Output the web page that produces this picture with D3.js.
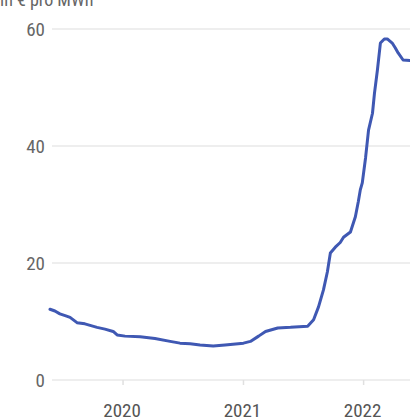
<!DOCTYPE html>
<html><head><meta charset="utf-8">
<script src="https://cdn.jsdelivr.net/npm/d3@7"></script>
<style>
html,body{margin:0;padding:0;background:#fff;}
svg{display:block;}
text{font-family:"Roboto Condensed",Roboto,sans-serif;}
</style></head>
<body>
<script>
const dates = ["2019-05-24","2019-06-08","2019-06-23","2019-07-09","2019-07-24","2019-08-14","2019-09-07","2019-10-14","2019-11-07","2019-12-02","2019-12-14","2020-01-07","2020-02-22","2020-04-07","2020-05-23","2020-06-22","2020-07-23","2020-08-22","2020-10-01","2020-11-06","2021-01-01","2021-01-22","2021-02-16","2021-03-09","2021-04-15","2021-05-24","2021-07-15","2021-08-02","2021-08-17","2021-09-01","2021-09-13","2021-09-22","2021-10-07","2021-10-22","2021-11-01","2021-11-22","2021-12-07","2021-12-16","2021-12-22","2021-12-28","2022-01-07","2022-01-16","2022-01-28","2022-02-03","2022-02-12","2022-02-21","2022-03-05","2022-03-14","2022-03-29","2022-04-07","2022-04-16","2022-05-01","2022-05-22"];
const values = [12.1,11.8,11.3,11.0,10.7,9.8,9.6,9.0,8.7,8.3,7.7,7.5,7.4,7.1,6.6,6.3,6.2,6.0,5.8,6.0,6.3,6.6,7.5,8.3,8.9,9.0,9.2,10.3,12.5,15.4,18.5,21.7,22.7,23.5,24.4,25.3,27.9,30.5,32.5,33.7,38.0,42.7,45.6,49.0,53.0,57.6,58.3,58.3,57.6,56.8,55.9,54.7,54.6];
const yTicks = [0,20,40,60];
const xTickYears = ["2020","2021","2022"];
const unitLabel = "in € pro MWh";

const W=410,H=420;
const parse=d3.timeParse("%Y-%m-%d");
const data=dates.map((d,i)=>({date:parse(d),value:values[i]}));
const svg=d3.select("body").append("svg").attr("width",W).attr("height",H);

const x=d3.scaleTime().domain([parse("2019-05-24"),parse("2022-05-22")]).range([50,410]);
const y=d3.scaleLinear().domain([0,60]).range([380,29]);

function ctext(g,px,py,size,anchor,fill,str,dy){
  return g.append("text").attr("x",px).attr("y",py)
    .attr("dy",dy||0).attr("text-anchor",anchor).attr("font-size",size).attr("fill",fill).text(str);
}

ctext(svg,0,6,18,"start","#666",unitLabel);

const gy=svg.append("g");
yTicks.forEach(t=>{
  gy.append("line").attr("x1",52).attr("x2",W).attr("y1",y(t)).attr("y2",y(t)).attr("stroke","#e8e8e8").attr("stroke-width",1.5);
  ctext(gy,45,y(t),19,"end","#666",t,"0.36em");
});

const gx=svg.append("g");
xTickYears.forEach(yr=>{
  const px=x(parse(yr+"-01-01"));
  gx.append("line").attr("x1",px).attr("x2",px).attr("y1",380).attr("y2",385).attr("stroke","#e0e0e0").attr("stroke-width",1.5);
  ctext(gx,px-1,417,19,"middle","#555",yr);
});

const line=d3.line().x(d=>x(d.date)).y(d=>y(d.value));
svg.append("path").datum(data).attr("d",line).attr("fill","none").attr("stroke","#3f58b3").attr("stroke-width",3).attr("stroke-linejoin","round").attr("stroke-linecap","round");
</script>
</body></html>
